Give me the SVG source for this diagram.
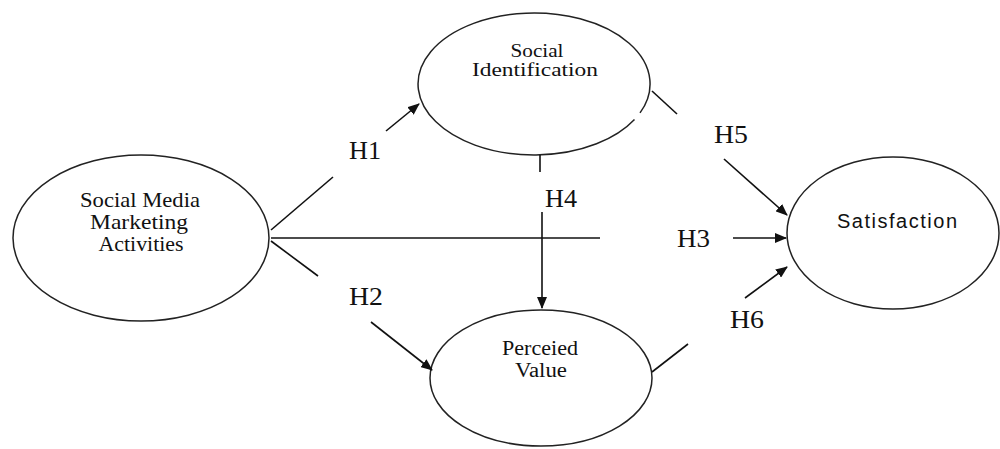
<svg xmlns="http://www.w3.org/2000/svg" width="1000" height="449" viewBox="0 0 1000 449">
  <style>
    .node { fill: #ffffff; stroke: #222222; stroke-width: 1.5; }
    .lbl { font-family: "Liberation Serif", "Times New Roman", serif; fill: #111111; text-anchor: middle; }
    .hyp { font-family: "Liberation Serif", "Times New Roman", serif; font-size: 26px; fill: #111111; }
    .sans { font-family: "Liberation Sans", Arial, sans-serif; fill: #111111; text-anchor: middle; }
    .conn { stroke: #111111; stroke-width: 1.6; fill: none; }
  </style>
  <defs>
    <marker id="arrow" markerWidth="12" markerHeight="10" refX="11" refY="5" orient="auto" markerUnits="userSpaceOnUse">
      <path d="M0,0 L12,5 L0,10 Z" fill="#111111"/>
    </marker>
  </defs>
  <rect width="1000" height="449" fill="#ffffff"/>

  <g id="node-smma">
    <ellipse class="node" cx="141" cy="238" rx="128" ry="83"/>
    <text class="lbl" font-size="21" x="140" y="207" textLength="120" lengthAdjust="spacingAndGlyphs">Social Media</text>
    <text class="lbl" font-size="21" x="139" y="229" textLength="98" lengthAdjust="spacingAndGlyphs">Marketing</text>
    <text class="lbl" font-size="21" x="141" y="251" textLength="85" lengthAdjust="spacingAndGlyphs">Activities</text>
  </g>

  <g id="node-social-identification">
    <path class="node" d="M 640 112.9 A 116 71 0 1 0 634.5 119.5"/>
    <text class="lbl" font-size="18" x="537" y="57" textLength="53" lengthAdjust="spacingAndGlyphs">Social</text>
    <text class="lbl" font-size="18" x="535" y="76" textLength="126" lengthAdjust="spacingAndGlyphs">Identification</text>
  </g>

  <g id="node-perceived-value">
    <ellipse class="node" cx="541" cy="378" rx="111" ry="68"/>
    <text class="lbl" font-size="20" x="540" y="355" textLength="76" lengthAdjust="spacingAndGlyphs">Perceied</text>
    <text class="lbl" font-size="20" x="541" y="377" textLength="52" lengthAdjust="spacingAndGlyphs">Value</text>
  </g>

  <g id="node-satisfaction">
    <ellipse class="node" cx="893" cy="233" rx="106" ry="76"/>
    <text class="sans" font-size="20" x="897" y="228" textLength="120" lengthAdjust="spacing">Satisfaction</text>
  </g>

  <g id="connectors">
    <!-- H1 -->
    <line class="conn" x1="271" y1="230" x2="333" y2="177"/>
    <line class="conn" x1="386" y1="131" x2="419" y2="104" marker-end="url(#arrow)"/>
    <!-- H3 -->
    <line class="conn" x1="271" y1="238" x2="600" y2="238"/>
    <line class="conn" x1="733" y1="238" x2="786" y2="238" marker-end="url(#arrow)"/>
    <!-- H2 -->
    <line class="conn" x1="271" y1="241" x2="318" y2="276"/>
    <line class="conn" x1="371" y1="322" x2="432" y2="370" marker-end="url(#arrow)"/>
    <!-- H4 -->
    <line class="conn" x1="540" y1="155" x2="540" y2="172"/>
    <line class="conn" x1="542" y1="212" x2="542" y2="308" marker-end="url(#arrow)"/>
    <!-- H5 -->
    <line class="conn" x1="652" y1="91" x2="677" y2="114"/>
    <line class="conn" x1="724" y1="159" x2="787" y2="215" marker-end="url(#arrow)"/>
    <!-- H6 -->
    <line class="conn" x1="652" y1="372" x2="688" y2="344"/>
    <line class="conn" x1="745" y1="298" x2="787" y2="267" marker-end="url(#arrow)"/>
    <!-- labels -->
    <text class="hyp" x="349" y="159" textLength="32" lengthAdjust="spacingAndGlyphs">H1</text>
    <text class="hyp" x="349" y="305" textLength="34" lengthAdjust="spacingAndGlyphs">H2</text>
    <text class="hyp" x="677" y="247" textLength="33" lengthAdjust="spacingAndGlyphs">H3</text>
    <text class="hyp" x="545" y="207" textLength="32" lengthAdjust="spacingAndGlyphs">H4</text>
    <text class="hyp" x="714" y="143" textLength="34" lengthAdjust="spacingAndGlyphs">H5</text>
    <text class="hyp" x="730" y="328" textLength="34" lengthAdjust="spacingAndGlyphs">H6</text>
  </g>
</svg>
